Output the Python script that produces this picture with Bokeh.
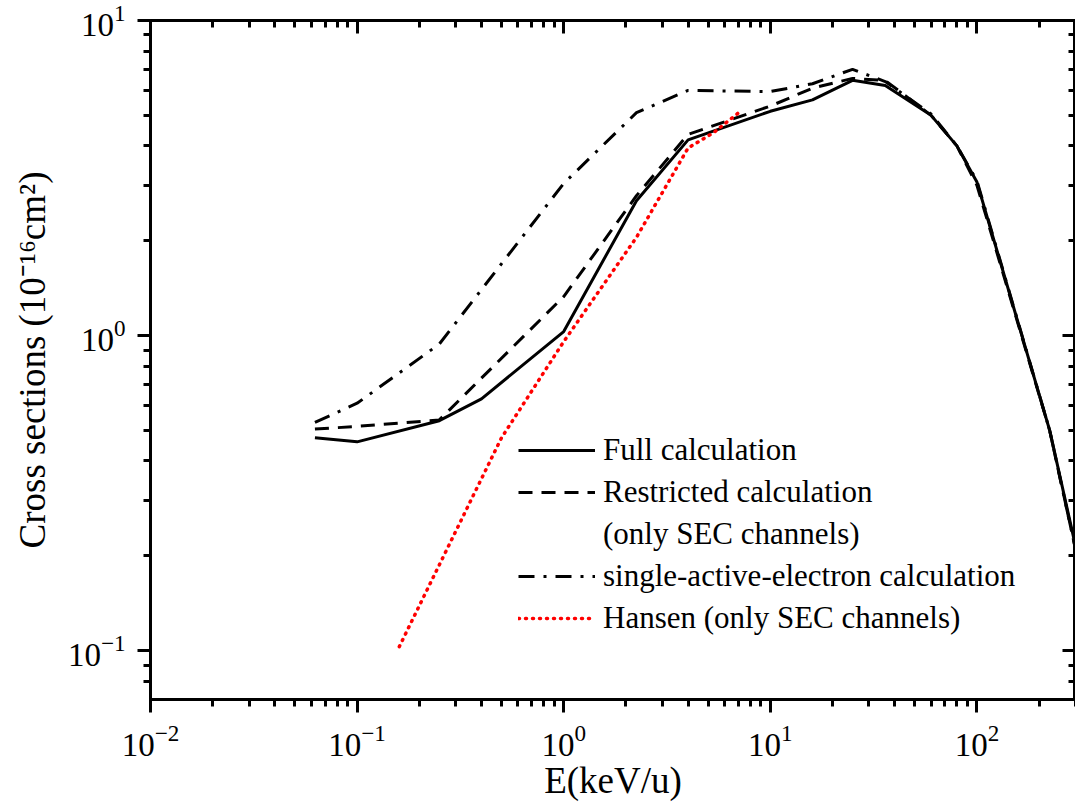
from bokeh.plotting import figure
from bokeh.models import LogAxis, LogTicker, Legend, LegendItem, Range1d, CustomJSTickFormatter
from bokeh.embed import file_html
from bokeh.resources import INLINE

# ---- data ----
E_full = [0.0625, 0.1, 0.25, 0.4, 1.0, 2.25, 4.0, 10.0, 16.0, 25.0, 36.0, 60.0, 80.0, 100.0, 225.0, 300.0]
sig_full = [0.474, 0.46, 0.537, 0.63, 1.03, 2.68, 4.18, 5.15, 5.6, 6.46, 6.22, 5.0, 4.0, 3.07, 0.5, 0.215]

E_restr = [0.0625, 0.1, 0.25, 1.0, 2.25, 4.0, 10.0, 16.0, 25.0, 36.0, 60.0, 80.0, 100.0, 225.0, 300.0]
sig_restr = [0.505, 0.515, 0.54, 1.33, 2.78, 4.35, 5.35, 6.1, 6.55, 6.45, 5.0, 4.0, 3.0, 0.5, 0.21]

E_sae = [0.0625, 0.1, 0.25, 1.0, 2.25, 4.0, 10.0, 16.0, 25.0, 36.0, 60.0, 80.0, 100.0, 225.0, 300.0]
sig_sae = [0.53, 0.61, 0.94, 3.04, 5.1, 6.0, 5.95, 6.3, 7.0, 6.4, 5.05, 4.0, 3.1, 0.5, 0.21]

E_hansen = [0.16, 0.5, 1.0, 2.25, 4.0, 5.3, 7.3]
sig_hansen = [0.103, 0.474, 0.957, 2.05, 3.94, 4.4, 5.2]

labels = ["Full calculation", "Restricted calculation", "(only SEC channels)",
          "single-active-electron calculation", "Hansen (only SEC channels)"]

FONT = "Liberation Serif"

p = figure(width=1075, height=807, x_axis_type="log", y_axis_type="log",
           x_range=Range1d(0.01, 300), y_range=Range1d(0.07, 10),
           output_backend="svg", toolbar_location=None,
           min_border_left=150, min_border_right=0, min_border_top=20, min_border_bottom=108)
p.grid.visible = False
p.outline_line_color = "black"
p.outline_line_width = 3
p.background_fill_color = "white"
p.border_fill_color = "white"

r_full = p.line(E_full, sig_full, line_color="black", line_width=3)
r_restr = p.line(E_restr, sig_restr, line_color="black", line_width=3, line_dash="14 9")
r_sae = p.line(E_sae, sig_sae, line_color="black", line_width=3, line_dash="16 9 3 9")
r_han = p.line(E_hansen, sig_hansen, line_color="#ff0000", line_width=3.5,
               line_dash="1 6", line_cap="round")
# invisible renderer used only for the second line of a two-line legend label
r_blank = p.line(E_full[:1], sig_full[:1], line_alpha=0)

def style_axis(ax, inward, show_labels):
    ax.axis_line_width = 3
    ax.axis_line_color = "black"
    ax.major_tick_line_width = 3
    ax.minor_tick_line_width = 3
    ax.major_tick_line_color = "black"
    ax.minor_tick_line_color = "black"
    if inward:
        ax.major_tick_in = 13
        ax.major_tick_out = 0
        ax.minor_tick_in = 7
        ax.minor_tick_out = 0
    else:
        ax.major_tick_in = 0
        ax.major_tick_out = 13
        ax.minor_tick_in = 0
        ax.minor_tick_out = 7
    ax.major_label_text_font = FONT
    ax.major_label_text_font_size = "33px"
    ax.major_label_text_color = "black"
    if not show_labels:
        ax.formatter = CustomJSTickFormatter(code="return ''")
        ax.major_label_standoff = 0
    else:
        ax.major_label_standoff = 12
    ax.axis_label_text_font = FONT
    ax.axis_label_text_font_size = "37px"
    ax.axis_label_text_font_style = "normal"
    ax.axis_label_text_color = "black"

style_axis(p.xaxis[0], False, True)
style_axis(p.yaxis[0], False, True)
p.xaxis.axis_label = "E(keV/u)"
p.yaxis.axis_label = "Cross sections (10\u207b\u00b9\u2076cm\u00b2)"
p.xaxis.axis_label_standoff = 1
p.yaxis.axis_label_standoff = 12

top = LogAxis(ticker=LogTicker(num_minor_ticks=10))
right = LogAxis(ticker=LogTicker(num_minor_ticks=10))
style_axis(top, True, False)
style_axis(right, True, False)
p.add_layout(top, "above")
p.add_layout(right, "right")

legend = Legend(items=[
    LegendItem(label=labels[0], renderers=[r_full]),
    LegendItem(label=labels[1], renderers=[r_restr]),
    LegendItem(label=labels[2], renderers=[r_blank]),
    LegendItem(label=labels[3], renderers=[r_sae]),
    LegendItem(label=labels[4], renderers=[r_han]),
], location=(368, 60))
legend.label_text_font = FONT
legend.label_text_font_size = "31px"
legend.label_text_color = "black"
legend.glyph_width = 77
legend.glyph_height = 20
legend.label_height = 42
legend.spacing = 0
legend.padding = 0
legend.margin = 0
legend.label_standoff = 8
legend.border_line_alpha = 0
legend.background_fill_alpha = 0
p.add_layout(legend, "center")

open("out.html", "w").write(file_html(p, INLINE))
